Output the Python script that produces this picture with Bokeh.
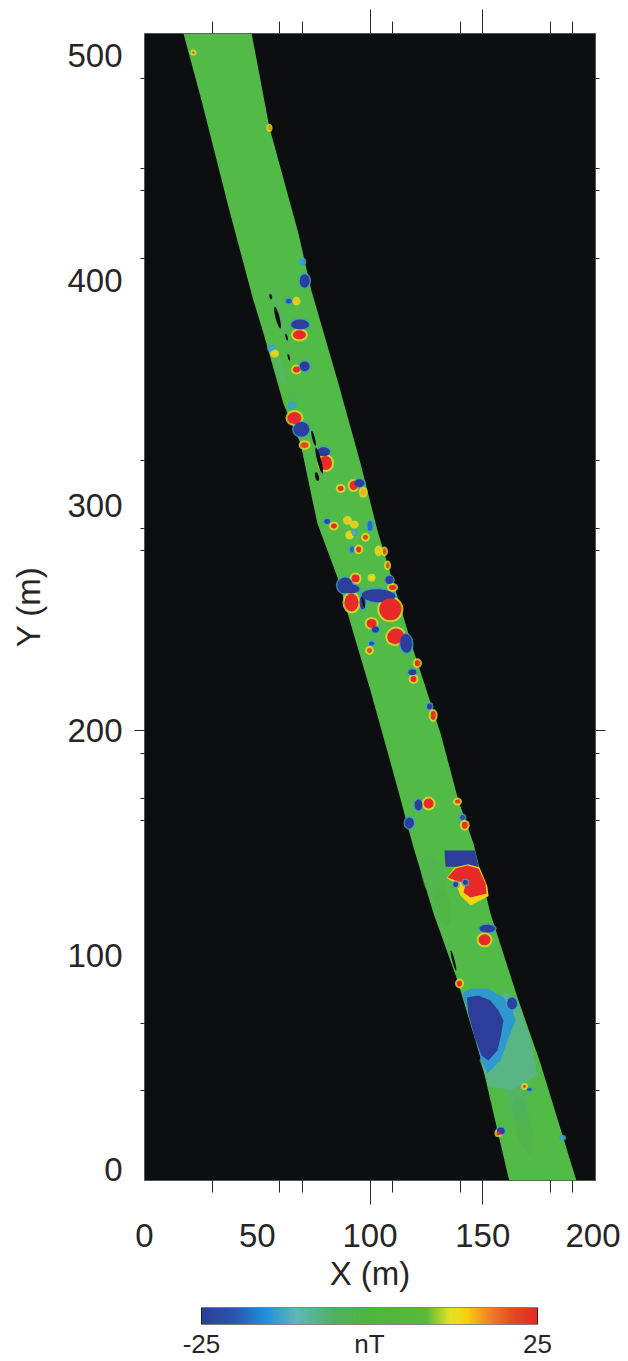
from bokeh.plotting import figure
from bokeh.layouts import column
from bokeh.embed import file_html
from bokeh.resources import INLINE
from bokeh.models import (LinearAxis, FixedTicker, Range1d, ColumnDataSource, LinearColorMapper)
from bokeh.transform import transform
import numpy as np

FONT = "Liberation Sans"
INK = "#262626"

x_major = [100, 150]
x_minor = [30, 60, 70, 110, 140, 180, 190]
y_major = [200]
y_minor = [40, 70, 160, 170, 190, 280, 290, 320, 410, 440, 450, 490]
x_labels = [0, 50, 100, 150, 200]
y_labels = [5, 100, 200, 300, 400, 500]
y_label_text = {5: "0"}

# survey strip edges
edge_y_left = [510, 480.2, 432.6, 391.3, 376.6, 345.5, 327.7, 302.4, 292.1, 268.1, 247.7, 217.9, 177.9, 148.1, 118.7, 88.9, 54.7, 1.3, 0]
edge_x_left = [17.3, 25.3, 37.3, 48.3, 52.8, 61.6, 69.2, 74.5, 76.7, 85.6, 91.4, 100.2, 111.3, 119.3, 128.2, 138.8, 149, 161.4, 161.9]
edge_y_right = [510, 468.2, 421, 395.7, 355.7, 318.8, 289, 265.5, 235.7, 198.8, 169, 149.8, 118.7, 81.4, 52, 1.3, 0]
edge_x_right = [47.5, 55.4, 68.3, 74, 85.6, 95.8, 103.3, 110.4, 119.3, 131.3, 139.2, 145.9, 153.4, 165.4, 175.6, 191.1, 191.6]

# anomalies
blob_x = [71, 70, 64, 67.4, 69, 68.7, 56.3, 57.7, 67.4, 71, 65.2, 66.5, 69.6, 71, 79.4, 80.3, 87, 92.7, 95.3, 97,
          81, 84, 90, 93, 100, 91, 93, 98, 92, 95, 103.8, 106.4, 107.8, 100.7, 89, 93.6, 103.8, 91.4, 96.7, 91.8,
          109, 108.6, 110, 100.7, 102.4, 111.3, 116, 100.7, 99.8, 121, 118.8, 119.3, 126.4, 128,
          121.5, 126, 117.5, 138.8, 141, 142, 138, 142.3, 152, 150.8, 139.7,
          163, 158, 157, 170.7, 168.5, 185.4, 21.7, 55.4]
blob_y = [400, 408.6, 391, 391, 380.6, 376, 370, 367.7, 360.6, 362, 344.6, 339, 334, 327, 324, 319, 307.7, 309, 310, 306,
          293, 291, 293.5, 291.7, 291, 287, 288, 286, 280.6, 280.6, 280, 279.7, 273.5, 268, 264.6, 267.7, 260, 263, 257, 257,
          254, 267, 263.7, 247.7, 245, 242, 238.8, 238.8, 235.7, 230, 226, 223, 210.8, 206.8,
          167, 167.6, 159, 168.5, 161.4, 158, 131.6, 132.5, 112, 107, 87.6,
          78.7, 22, 21, 40.5, 41.8, 19, 501.5, 468]
blob_w = [4.4, 2.2, 2.6, 1.8, 8, 5.8, 2.6, 2.2, 3.1, 4.4, 2.6, 6.2, 7, 3.5, 5.8, 5.8, 2.6, 3.5, 4.4, 2.2,
          2.6, 2.6, 2.2, 2.2, 2.2, 2.2, 1.8, 2.2, 1.8, 2.2, 1.8, 1.3, 1.3, 1.8, 7, 3.5, 15, 8, 2.6, 6.2,
          9.8, 3.5, 3.1, 4.4, 3.1, 7.5, 5.3, 2.2, 2.2, 2.2, 3.5, 2.6, 2.2, 2.2,
          3.5, 4.4, 4, 2.2, 2.2, 2.6, 2.2, 2.2, 7, 5.3, 2.2,
          4.4, 3.5, 1.8, 2.2, 1.3, 1.8, 1.0, 0.9]
blob_h = [6, 2.6, 2.2, 2.2, 4.5, 4, 2.2, 1.8, 2.6, 4.4, 2.2, 5.3, 6.6, 2.6, 4, 6.2, 2.2, 4, 3.5, 3.1,
          2.2, 2.2, 2.2, 1.8, 4.4, 2.2, 1.8, 2.2, 2.6, 2.6, 3.1, 2.6, 2.6, 1.8, 7, 3.5, 5.8, 4, 6.2, 8,
          9.8, 3.5, 2.2, 4, 2.6, 6.6, 8.4, 1.8, 2.2, 2.6, 2.6, 2.6, 2.6, 4,
          4.9, 4.4, 4.9, 1.8, 2.2, 3.1, 2.2, 2.2, 3.5, 4.9, 2.6,
          5.3, 3.1, 1.8, 1.3, 1.3, 1.3, 1.0, 1.8]
blob_v = [-25, -14, -20, 15, -25, 25, -13, 14, 25, -25, -13, 25, -25, 22, -25, 25, 24, 25, -25, 16,
          -22, 25, 15, 15, -18, 14, -12, 22, -18, 24, 15, 22, 22, 13, -25, 25, -25, -25, -25, 25,
          25, -25, 24, 25, -25, 25, -25, -22, 21, 25, -25, 25, -25, 24,
          -25, 25, -25, 23, -22, 24, -25, -25, -25, 25, 25,
          -24, -25, 25, -20, 22, -13, 25, 18]
blob_a = [0] * 36 + [-0.05] + [0] * 8 + [0.45, 0.1] + [0] * 26

# large anomalies, outlined by hand from the picture
zone_v = [-9, -14.5, -25, -25, 14, 25]
zone_o = [.7, .95, 1, 1, 1, 1]
zone_xs = [[159.2, 165.4, 171.2, 174.3, 162.3, 152.8, 148.6],
           [141, 144.6, 152.1, 159.2, 163.2, 164.5, 161, 157.9, 153.4, 152, 149, 146.2, 143.2],
           [143, 148.1, 153.4, 157, 159.2, 157.9, 156.5, 152.5, 149.5, 146.4, 143.6],
           [133, 146.5, 148.2, 133.5],
           [134, 137.5, 143.5, 148.6, 152, 152.6, 144.6, 140.1, 137.9],
           [134.4, 137.9, 143.2, 148.1, 151.2, 151.7, 144.6, 141.5, 142.4, 137.9]]
zone_ys = [[84.5, 80, 62.3, 46.7, 40, 42.2, 53.4],
           [83.2, 85.4, 85.4, 81.4, 75.6, 71.1, 62.3, 53.4, 48.9, 47.6, 54.7, 65.4, 75.6],
           [81.4, 82.3, 80, 75.6, 71.1, 63.6, 57.8, 53.4, 55.6, 63.6, 74.3],
           [146.7, 146.7, 139.5, 139.5],
           [134.5, 139.2, 140.6, 139.2, 131, 126.5, 122.3, 126.7, 132.1],
           [134.7, 138.7, 140.1, 138.7, 132.1, 127.6, 125.8, 128.1, 132.1, 133.4]]

# gaps in the survey
gap_x = [59, 56, 63, 64, 75, 77.5, 76.5, 97, 137]
gap_y = [383.7, 393, 375, 366, 330, 320, 313, 257, 97.8]
gap_w = [1.8, 1.2, 0.9, 0.9, 1.2, 1.8, 1.6, 0.9, 1.1]
gap_h = [10, 2.4, 3, 3, 7, 12, 4, 5, 9.5]

# soft tones inside the strip
tone_x = [60, 60, 66, 128, 132, 165, 168]
tone_y = [385, 362, 346, 135, 122, 36, 24]
tone_w = [3, 3, 4, 10, 7, 9, 7]
tone_h = [24, 18, 10, 20, 18, 22, 26]
tone_v = [-7, -8, -5, -4, -2, -6, -3]
tone_o = [.45, .45, .45, .45, .45, .6, .45]

stop_pos = [0, .10, .19, .28, .40, .50, .67, .74, .79, .86, .93, 1]
stop_rgb = [(45, 62, 154), (42, 88, 176), (32, 144, 220), (96, 184, 184), (80, 176, 96), (76, 182, 60),
            (92, 186, 56), (228, 228, 40), (248, 208, 16), (240, 128, 40), (224, 74, 32), (232, 42, 40)]

t = np.linspace(0, 1, 256)
palette = ["#%02x%02x%02x" % tuple(int(np.interp(u, stop_pos, [c[i] for c in stop_rgb])) for i in range(3)) for u in t]
mapper = LinearColorMapper(palette=palette, low=-25, high=25)

p = figure(width=620, height=1305, output_backend="svg", toolbar_location=None,
           x_range=Range1d(0, 200), y_range=Range1d(0, 510),
           min_border_left=144, min_border_right=25, min_border_top=33, min_border_bottom=125,
           x_axis_location=None, y_axis_location=None)
p.grid.visible = False
p.background_fill_color = "#0c0e10"
p.outline_line_color = "#555555"
p.outline_line_width = 1

band_x = edge_x_left + edge_x_right[::-1]
band_y = edge_y_left + edge_y_right[::-1]
p.patch(band_x, band_y, fill_color="#52ba46", line_color=None)

tones = ColumnDataSource(dict(x=tone_x, y=tone_y, w=tone_w, h=tone_h, v=tone_v, o=tone_o))
p.ellipse("x", "y", width="w", height="h", source=tones, fill_color=transform("v", mapper),
          line_color=None, fill_alpha="o", angle=0.25)

zones = ColumnDataSource(dict(xs=zone_xs, ys=zone_ys, v=zone_v, o=zone_o))
p.patches("xs", "ys", source=zones, fill_color=transform("v", mapper), fill_alpha="o", line_color=None)

v = np.array(blob_v, dtype=float)
w = np.array(blob_w, dtype=float)
h = np.array(blob_h, dtype=float)
grow = np.where(v > 0, 1.8, 1.3)
halo = ColumnDataSource(dict(x=blob_x, y=blob_y, w=w + grow, h=h + grow,
                             v=np.where(v > 0, 13.0, -13.5), a=blob_a))
core = ColumnDataSource(dict(x=blob_x, y=blob_y, w=w, h=h, v=v, a=blob_a))
p.ellipse("x", "y", width="w", height="h", angle="a", source=halo,
          fill_color=transform("v", mapper), line_color=None, fill_alpha=0.8)
p.ellipse("x", "y", width="w", height="h", angle="a", source=core,
          fill_color=transform("v", mapper), line_color=None)
gaps = ColumnDataSource(dict(x=gap_x, y=gap_y, w=gap_w, h=gap_h))
p.ellipse("x", "y", width="w", height="h", source=gaps, angle=0.25, fill_color="#0c0e10", line_color=None)


def tick_axis(major, minor, out, minor_out, side):
    a = LinearAxis(ticker=FixedTicker(ticks=major, minor_ticks=minor),
                   major_tick_in=0, minor_tick_in=0, major_tick_out=out, minor_tick_out=minor_out,
                   major_tick_line_color=INK, minor_tick_line_color=INK,
                   major_tick_line_width=1, minor_tick_line_width=1,
                   axis_line_color=None, major_label_text_font_size="0px",
                   major_label_text_color=None, major_label_standoff=0)
    p.add_layout(a, side)


tick_axis(x_major, x_minor, 24, 12, "below")
tick_axis(x_major, x_minor, 24, 12, "above")
tick_axis(y_major, y_minor, 10, 4, "left")
tick_axis(y_major, y_minor, 10, 4, "right")

bx = LinearAxis(ticker=FixedTicker(ticks=x_labels), axis_line_color=None,
                major_tick_line_color=None, minor_tick_line_color=None, major_tick_in=0, major_tick_out=0,
                major_label_text_font=FONT, major_label_text_font_size="33px", major_label_text_color=INK,
                major_label_standoff=19, axis_label="X (m)", axis_label_text_font=FONT,
                axis_label_text_font_style="normal", axis_label_text_font_size="33px",
                axis_label_text_color=INK, axis_label_standoff=5)
p.add_layout(bx, "below")
ly = LinearAxis(ticker=FixedTicker(ticks=y_labels), axis_line_color=None,
                major_tick_line_color=None, minor_tick_line_color=None, major_tick_in=0, major_tick_out=0,
                major_label_overrides=y_label_text,
                major_label_text_font=FONT, major_label_text_font_size="33px", major_label_text_color=INK,
                major_label_standoff=12, axis_label="Y (m)", axis_label_text_font=FONT,
                axis_label_text_font_style="normal", axis_label_text_font_size="33px",
                axis_label_text_color=INK, axis_label_standoff=17)
p.add_layout(ly, "left")

# colour bar: the frame shares the map's left and right borders, the ramp sits inside it
bar_ticks = [-25, 0, 25]
bar_text = {-25: "-25", 0: "nT", 25: "25"}
q = figure(width=620, height=56, output_backend="svg", toolbar_location=None,
           x_range=Range1d(-33.48, 33.63), y_range=Range1d(0, 1),
           min_border_left=144, min_border_right=25, min_border_top=2, min_border_bottom=33,
           x_axis_location=None, y_axis_location=None)
q.grid.visible = False
q.outline_line_color = None
q.image(image=[np.linspace(-25, 25, 256)[None, :]], x=-25, y=0, dw=50, dh=1, color_mapper=mapper)
q.rect(x=[0], y=[0.5], width=[50], height=[1], fill_color=None, line_color="#222222", line_width=1)
q.add_layout(LinearAxis(ticker=FixedTicker(ticks=bar_ticks), axis_line_color=None, major_tick_line_color=None,
                        minor_tick_line_color=None, major_tick_in=0, major_tick_out=0,
                        major_label_overrides=bar_text,
                        major_label_text_font=FONT, major_label_text_font_size="26px",
                        major_label_text_color=INK, major_label_standoff=4), "below")

open("out.html", "w").write(file_html(column(p, q, spacing=0), INLINE))
